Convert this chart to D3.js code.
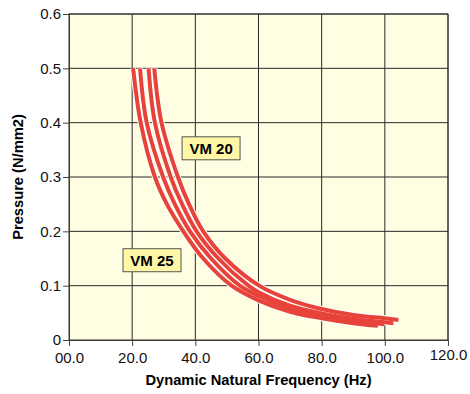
<!DOCTYPE html>
<html>
<head>
  <meta charset="utf-8">
  <script src="https://d3js.org/d3.v7.min.js"></script>
  <style>
  body { margin: 0; background: #ffffff; }
  * { font-family: "Liberation Sans", Arial, sans-serif; }
  </style>
</head>
<body>
<div id="chart"></div>
<script>
// curves, left (lowest at the end) to right
const curveA = [[20.3,0.5],[22.7,0.4],[27.2,0.3],[31,0.25],[36.2,0.2],[42.5,0.15],[51.5,0.1],[60,0.073],[70,0.052],[80,0.040],[90,0.031],[97.8,0.026]];
const curveB = [[22.5,0.5],[24.6,0.4],[29.8,0.3],[33.5,0.25],[38.3,0.2],[45,0.15],[54.1,0.1],[60,0.081],[70,0.058],[80,0.044],[90,0.035],[99.8,0.029]];
const curveC = [[25.2,0.5],[27.2,0.4],[32.2,0.3],[35.8,0.25],[40.4,0.2],[47.3,0.15],[56.8,0.1],[60,0.088],[70,0.063],[80,0.049],[90,0.039],[102.7,0.031]];
const curveD = [[27.0,0.5],[29.3,0.4],[34.5,0.3],[38,0.25],[42.5,0.2],[49.5,0.15],[60.2,0.1],[70,0.074],[80,0.057],[90,0.046],[100,0.040],[104.3,0.037]];
const curves = [curveA, curveB, curveC, curveD];

const xTicks = [0, 20, 40, 60, 80, 100, 120];
const xTickLabels = ["00.0", "20.0", "40.0", "60.0", "80.0", "100.0", "120.0"];
const yTicks = [0, 0.1, 0.2, 0.3, 0.4, 0.5, 0.6];
const yTickLabels = ["0", "0.1", "0.2", "0.3", "0.4", "0.5", "0.6"];

const labels = [
  { text: "VM 20", f: 35.8, p: 0.374 },
  { text: "VM 25", f: 17.1, p: 0.168 }
];

const width = 470, height = 394;
const svg = d3.select("#chart").append("svg")
  .attr("width", width)
  .attr("height", height);

const x = d3.scaleLinear().domain([0, 120]).range([69, 448]);
const y = d3.scaleLinear().domain([0, 0.6]).range([340, 14]);

// plot background
svg.append("rect")
  .attr("x", x(0)).attr("y", y(0.6))
  .attr("width", x(120) - x(0)).attr("height", y(0) - y(0.6))
  .attr("fill", "#fffde2");

// grid
svg.append("g").selectAll("line").data(xTicks.slice(1)).join("line")
  .attr("x1", d => x(d)).attr("x2", d => x(d))
  .attr("y1", y(0)).attr("y2", y(0.6))
  .attr("stroke", "#2a2a2a").attr("stroke-width", 1);
svg.append("g").selectAll("line").data(yTicks.slice(1)).join("line")
  .attr("x1", x(0)).attr("x2", x(120))
  .attr("y1", d => y(d)).attr("y2", d => y(d))
  .attr("stroke", "#2a2a2a").attr("stroke-width", 1);

// axes
const xAxis = svg.append("g")
  .attr("transform", `translate(0,${y(0)})`)
  .call(d3.axisBottom(x).tickValues(xTicks).tickSize(6).tickPadding(6)
    .tickFormat((d, i) => xTickLabels[i]));
const yAxis = svg.append("g")
  .attr("transform", `translate(${x(0)},0)`)
  .call(d3.axisLeft(y).tickValues(yTicks).tickSize(6).tickPadding(2)
    .tickFormat((d, i) => yTickLabels[i]));
[xAxis, yAxis].forEach(a => {
  a.select(".domain").attr("stroke", "#444");
  a.selectAll(".tick line").attr("stroke", "#444");
  a.selectAll("text").style("font-size", "15px").attr("fill", "#111");
});
xAxis.selectAll(".tick").filter(d => d === 120).select("text").attr("dy", "0.55em");

// plot frame
svg.append("rect")
  .attr("x", x(0)).attr("y", y(0.6))
  .attr("width", x(120) - x(0)).attr("height", y(0) - y(0.6))
  .attr("fill", "none").attr("stroke", "#333");

// curves
const line = d3.line()
  .x(d => x(d[0]))
  .y(d => y(d[1]))
  .curve(d3.curveCatmullRom.alpha(0.5));

svg.append("g").selectAll("path").data(curves).join("path")
  .attr("d", line)
  .attr("fill", "none")
  .attr("stroke", "#ffffff")
  .attr("stroke-width", 6);
svg.append("g").selectAll("path").data(curves).join("path")
  .attr("d", line)
  .attr("fill", "none")
  .attr("stroke", "#e8433a")
  .attr("stroke-width", 4);

// labels
const lab = svg.append("g").selectAll("g").data(labels).join("g")
  .attr("transform", d => `translate(${x(d.f)},${y(d.p)})`);
lab.append("rect")
  .attr("width", 58).attr("height", 23)
  .attr("fill", "#fff7a6")
  .attr("stroke", "#555");
lab.append("text")
  .attr("x", 29).attr("y", 17)
  .attr("text-anchor", "middle")
  .style("font-size", "15px")
  .style("font-weight", "bold")
  .text(d => d.text);

// axis titles
svg.append("text")
  .attr("x", (x(0) + x(120)) / 2)
  .attr("y", 385)
  .attr("text-anchor", "middle")
  .style("font-size", "14.7px")
  .style("font-weight", "bold")
  .text("Dynamic Natural Frequency (Hz)");
svg.append("text")
  .attr("transform", `translate(23,${(y(0) + y(0.6)) / 2}) rotate(-90)`)
  .attr("text-anchor", "middle")
  .style("font-size", "14.7px")
  .style("font-weight", "bold")
  .text("Pressure (N/mm2)");
</script>
</body>
</html>
